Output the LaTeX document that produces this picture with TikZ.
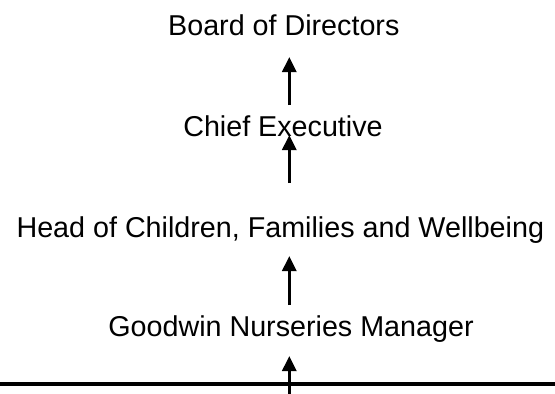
\documentclass[tikz,border=0pt]{standalone}
\usepackage{fontspec}
\setmainfont{Liberation Sans}
\usetikzlibrary{arrows.meta}
\begin{document}
\begin{tikzpicture}[x=1pt,y=-1pt,
  role/.style={inner sep=0pt,anchor=base,font=\fontsize{28.7}{34}\selectfont},
  uparrow/.style={line width=3pt,-{Triangle[width=14pt,length=15pt]}},
  baseline rule/.style={line width=4pt}]
  \useasboundingbox (0,0) rectangle (555,394);
  \clip (0,0) rectangle (555,394);

  % titles, bottom of hierarchy to top
  \node[role] (board) at (283.8,35) {Board of Directors};
  \node[role] (chief) at (283.0,136.7) {Chief Executive};
  \node[role] (head)  at (280.3,237.3) {Head of Children, Families and Wellbeing};
  \node[role] (nurs)  at (291.0,336.7) {Goodwin Nurseries Manager};

  % rule across the foot
  \coordinate (ruleL) at (0,384);
  \coordinate (ruleR) at (555,384);
  \draw[baseline rule] (ruleL) -- (ruleR);

  % arrow end points
  \coordinate (a1s) at (289.3,105);   \coordinate (a1e) at (289.3,57);
  \coordinate (a2s) at (289.3,183);   \coordinate (a2e) at (289.3,135);
  \coordinate (a3s) at (289.3,305);   \coordinate (a3e) at (289.3,256);
  \coordinate (a4s) at (289.3,400);   \coordinate (a4e) at (289.3,356);

  \draw[uparrow] (a1s) -- (a1e);
  \draw[uparrow] (a2s) -- (a2e);
  \draw[uparrow] (a3s) -- (a3e);
  \draw[uparrow] (a4s) -- (a4e);
\end{tikzpicture}
\end{document}
